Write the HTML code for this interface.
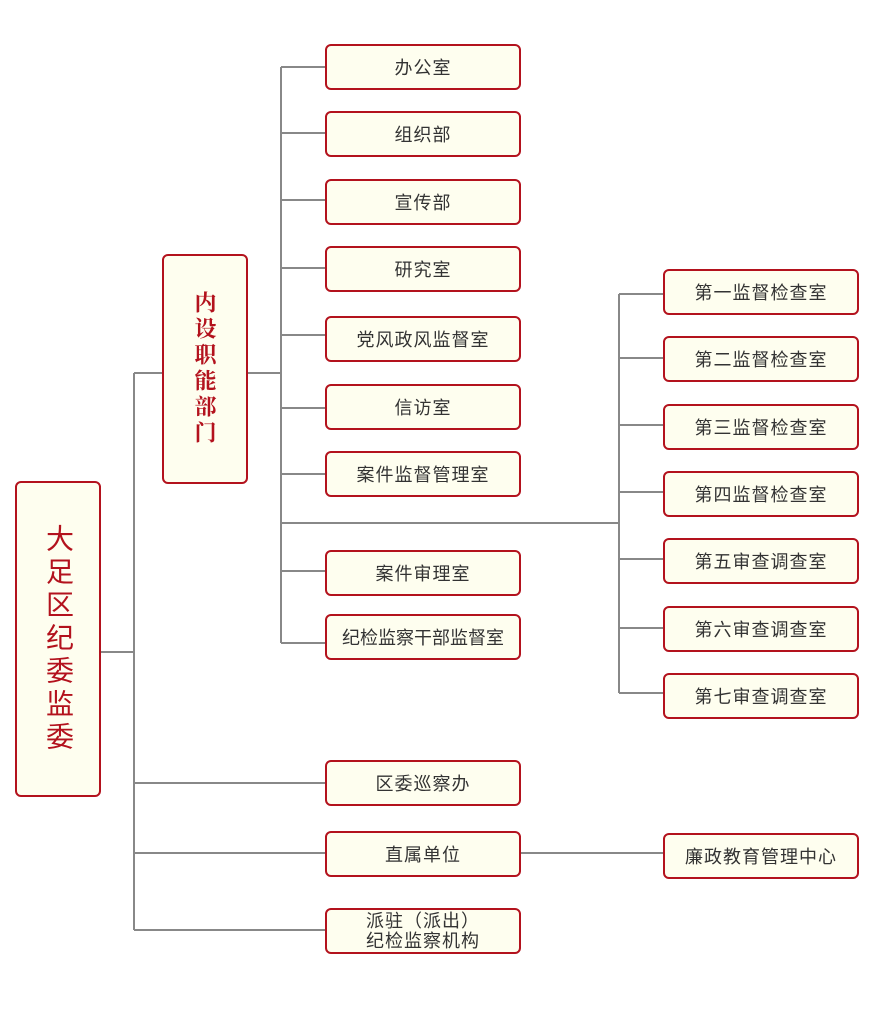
<!DOCTYPE html>
<html><head><meta charset="utf-8"><style>
body{margin:0;width:876px;height:1026px;background:#fff;position:relative;font-family:"Liberation Sans","Noto Sans CJK SC",sans-serif;overflow:hidden}
.b{position:absolute;box-sizing:border-box;border:2px solid #b3121d;border-radius:6px;background:#fefeef;color:#333;font-size:18px;display:flex;align-items:center;justify-content:center;text-align:center;letter-spacing:1px}
.m{left:325px;width:196px;height:46px}
.r{left:663px;width:196px;height:46px}
svg{position:absolute;left:0;top:0}
</style></head><body>
<svg width="876" height="1026"><g stroke="#888" stroke-width="2" fill="none">
<path d="M134 373V930M100 652H134M134 373H163M134 783H326M134 853H326M134 930H326"/>
<path d="M247 373H281M281 67V643M281 67H326M281 133H326M281 200H326M281 268H326M281 335H326M281 408H326M281 474H326M281 571H326M281 643H326M281 523H619"/>
<path d="M619 294V693M619 294H664M619 358H664M619 425H664M619 492H664M619 559H664M619 628H664M619 693H664M520 853H664"/>
</g></svg>
<div class="b" style="left:15px;top:481px;width:86px;height:316px;color:#b3121d;font-size:28px;line-height:32px;writing-mode:vertical-rl;letter-spacing:5px">大足区纪委监委</div>
<div class="b" style="left:162px;top:254px;width:86px;height:230px;color:#b3121d;font-size:22px;line-height:26px;font-weight:bold;font-family:'Noto Serif CJK SC',serif;writing-mode:vertical-rl;letter-spacing:4px">内设职能部门</div>
<div class="b m" style="top:44px">办公室</div>
<div class="b m" style="top:111px">组织部</div>
<div class="b m" style="top:179px">宣传部</div>
<div class="b m" style="top:246px">研究室</div>
<div class="b m" style="top:316px">党风政风监督室</div>
<div class="b m" style="top:384px">信访室</div>
<div class="b m" style="top:451px">案件监督管理室</div>
<div class="b m" style="top:550px">案件审理室</div>
<div class="b m" style="top:614px;letter-spacing:0">纪检监察干部监督室</div>
<div class="b m" style="top:760px">区委巡察办</div>
<div class="b m" style="top:831px">直属单位</div>
<div class="b m" style="top:908px;line-height:20px">派驻（派出）<br>纪检监察机构</div>
<div class="b r" style="top:269px">第一监督检查室</div>
<div class="b r" style="top:336px">第二监督检查室</div>
<div class="b r" style="top:404px">第三监督检查室</div>
<div class="b r" style="top:471px">第四监督检查室</div>
<div class="b r" style="top:538px">第五审查调查室</div>
<div class="b r" style="top:606px">第六审查调查室</div>
<div class="b r" style="top:673px">第七审查调查室</div>
<div class="b r" style="top:833px">廉政教育管理中心</div>
</body></html>
